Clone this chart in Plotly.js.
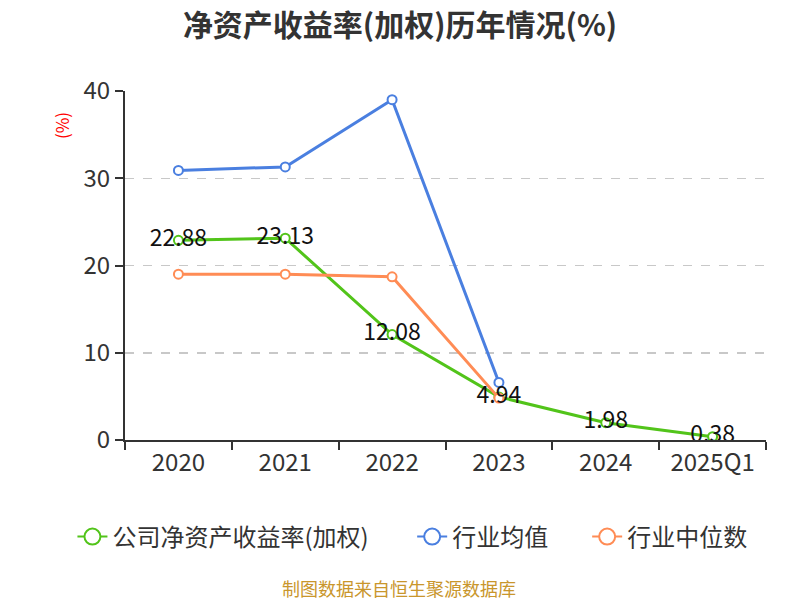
<!DOCTYPE html>
<html>
<head>
<meta charset="utf-8">
<script src="https://cdn.plot.ly/plotly-3.0.1.min.js"></script>
<style>html,body{margin:0;padding:0;background:#fff;}#chart{width:800px;height:600px;}</style>
</head>
<body>
<div id="chart"></div>
<script>
const categories = ['2020', '2021', '2022', '2023', '2024', '2025Q1'];
const companyROE = [22.88, 23.13, 12.08, 4.94, 1.98, 0.38];
const industryAvg = [30.9, 31.3, 39.0, 6.6, null, null];
const industryMedian = [19.0, 19.0, 18.7, 4.8, null, null];
const companyLabels = ['22.88', '23.13', '12.08', '4.94', '1.98', '0.38'];
const seriesNames = ['公司净资产收益率(加权)', '行业均值', '行业中位数'];
const seriesColors = ['#52c41a', '#4a7fe0', '#ff8c55'];

const FONT = '"Noto Sans CJK SC", "Microsoft YaHei", sans-serif';

function lineTrace(name, y, color) {
  return {
    type: 'scatter', mode: 'lines+markers', name: name,
    x: categories, y: y, showlegend: false,
    line: {color: color, width: 3},
    marker: {symbol: 'circle', size: 9, color: '#fff', line: {color: color, width: 2}},
    hoverinfo: 'x+y'
  };
}
function legendTrace(name, color, legendId) {
  return {
    type: 'scatter', mode: 'lines+markers', name: name, legend: legendId,
    x: [null], y: [null], showlegend: true,
    line: {color: color, width: 2},
    marker: {symbol: 'circle', size: 16, color: '#fff', line: {color: color, width: 2}},
    hoverinfo: 'skip'
  };
}

const traces = [
  lineTrace(seriesNames[0], companyROE, seriesColors[0]),
  lineTrace(seriesNames[1], industryAvg, seriesColors[1]),
  lineTrace(seriesNames[2], industryMedian, seriesColors[2]),
  {
    type: 'scatter', mode: 'text', x: categories, y: companyROE,
    text: companyLabels, textposition: 'middle center',
    textfont: {family: FONT, size: 23, color: '#111'},
    showlegend: false, hoverinfo: 'skip'
  },
  legendTrace(seriesNames[0], seriesColors[0], 'legend'),
  legendTrace(seriesNames[1], seriesColors[1], 'legend2'),
  legendTrace(seriesNames[2], seriesColors[2], 'legend3')
];

function legendAt(xPaper) {
  return {
    orientation: 'h', x: xPaper, xanchor: 'left', y: -0.278, yanchor: 'middle',
    font: {family: FONT, size: 24, color: '#333'}, bgcolor: 'rgba(0,0,0,0)'
  };
}

const layout = {
  width: 800, height: 600,
  margin: {l: 125, r: 34, t: 91, b: 160},
  paper_bgcolor: '#fff', plot_bgcolor: '#fff',
  font: {family: FONT, color: '#333'},
  title: {text: '<b>净资产收益率(加权)历年情况(%)</b>', x: 0.5, xanchor: 'center',
          yref: 'container', y: 0.958, yanchor: 'middle',
          font: {family: FONT, size: 30, color: '#333'}},
  xaxis: {
    type: 'category', showline: true, linecolor: '#333', linewidth: 2,
    ticks: 'outside', tickson: 'boundaries', ticklen: 8, tickcolor: '#333', tickwidth: 2,
    showgrid: false, zeroline: false,
    tickfont: {family: FONT, size: 24, color: '#333'},
    range: [-0.5, 5.5]
  },
  yaxis: {
    range: [0, 40], dtick: 10, showline: true, linecolor: '#333', linewidth: 2,
    ticks: 'outside', ticklen: 8, tickcolor: '#333', tickwidth: 2,
    showgrid: true, gridcolor: '#c8c8c8', griddash: 'dash', gridwidth: 1.5,
    zeroline: false,
    tickfont: {family: FONT, size: 24, color: '#333'}
  },
  legend: legendAt(-0.082),
  legend2: legendAt(0.448),
  legend3: legendAt(0.721),
  annotations: [
    {text: '(%)', xref: 'paper', yref: 'paper', x: -0.098, y: 0.9, textangle: -90,
     xanchor: 'center', yanchor: 'middle',
     showarrow: false, font: {family: FONT, size: 17, color: '#ff0000'}},
    {text: '制图数据来自恒生聚源数据库', xref: 'paper', yref: 'paper', x: 0.428, y: -0.425,
     xanchor: 'center', yanchor: 'middle', showarrow: false, borderpad: 0,
     font: {family: FONT, size: 18, color: '#c9962c'}}
  ],
  showlegend: true
};

Plotly.newPlot('chart', traces, layout, {displayModeBar: false, staticPlot: true});
</script>
</body>
</html>
